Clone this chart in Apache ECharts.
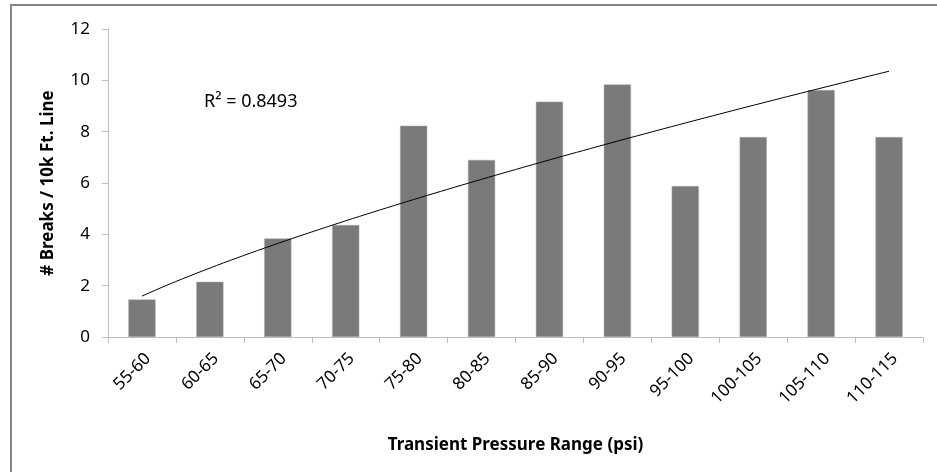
<!DOCTYPE html>
<html>
<head>
<meta charset="utf-8">
<script src="https://cdn.jsdelivr.net/npm/echarts@6/dist/echarts.min.js"></script>
<style>html,body{margin:0;padding:0;background:#fff}#c{width:937px;height:472px}</style>
</head>
<body>
<div id="c"></div>
<script>
const categories = ['55-60','60-65','65-70','70-75','75-80','80-85','85-90','90-95','95-100','100-105','105-110','110-115'];
const breaks = [1.46, 2.15, 3.84, 4.36, 8.23, 6.9, 9.17, 9.84, 5.88, 7.79, 9.62, 7.79];
const yTicks = [0, 2, 4, 6, 8, 10, 12];
const r2Label = 'R² = 0.8493';

// power trendline y = a * x^b fitted (least squares in log space) to the bar values
const lx = breaks.map((_, i) => Math.log(i + 1));
const ly = breaks.map(v => Math.log(v));
const n = breaks.length;
const mx = lx.reduce((s, v) => s + v, 0) / n;
const my = ly.reduce((s, v) => s + v, 0) / n;
let sxy = 0, sxx = 0;
for (let i = 0; i < n; i++) { sxy += (lx[i] - mx) * (ly[i] - my); sxx += (lx[i] - mx) ** 2; }
const b = sxy / sxx;
const a = Math.exp(my - b * mx);
const trend = [];
for (let k = 0; k <= 110; k++) {
  const t = 1 + k * 0.1;
  trend.push([t - 0.5, a * Math.pow(t, b)]);
}

const font = 'Noto Sans';
const chart = echarts.init(document.getElementById('c'));
chart.setOption({
  animation: false,
  backgroundColor: '#fff',
  grid: { left: 108, right: 14, top: 29, bottom: 135, containLabel: false },
  xAxis: [{
    type: 'category',
    data: categories,
    axisLine: { lineStyle: { color: '#bfbfbf', width: 1 } },
    axisTick: { show: true, length: 6, inside: false, alignWithLabel: false, lineStyle: { color: '#bfbfbf' } },
    axisLabel: { rotate: 45, margin: 13, verticalAlign: 'top', fontFamily: font, fontSize: 17, color: '#000', interval: 0 },
    name: 'Transient Pressure Range (psi)',
    nameLocation: 'middle',
    nameGap: 100,
    nameTextStyle: { fontFamily: font, fontSize: 17, fontWeight: 'bold', color: '#000' }
  }, {
    type: 'value', min: 0, max: 12, show: false
  }],
  yAxis: {
    type: 'value',
    min: 0, max: 12, interval: 2,
    axisLine: { show: true, lineStyle: { color: '#bfbfbf', width: 1 } },
    axisTick: { show: true, length: 6, lineStyle: { color: '#bfbfbf' } },
    splitLine: { show: false },
    axisLabel: { margin: 18, fontFamily: font, fontSize: 17, color: '#000',
      formatter: v => yTicks.includes(v) ? String(v) : '' },
    name: '# Breaks / 10k Ft. Line',
    nameLocation: 'middle',
    nameGap: 51,
    nameTextStyle: { fontFamily: font, fontSize: 17, fontWeight: 'bold', color: '#000' }
  },
  series: [{
    type: 'bar',
    data: breaks,
    barCategoryGap: '60%',
    itemStyle: { color: '#7a7a7a', borderColor: '#a8a8a8', borderWidth: 0.5 },
    silent: true
  }, {
    type: 'line',
    xAxisIndex: 1,
    data: trend,
    showSymbol: false,
    lineStyle: { color: '#000', width: 1 },
    silent: true
  }],
  graphic: [{
    type: 'rect',
    shape: { x: 11, y: 5, width: 1000, height: 600 },
    style: { fill: 'none', stroke: '#868686', lineWidth: 2 },
    silent: true
  }, {
    type: 'text',
    left: 204, top: 93,
    style: { text: r2Label, fontFamily: font, fontSize: 18, fill: '#000' }
  }]
});
</script>
</body>
</html>
